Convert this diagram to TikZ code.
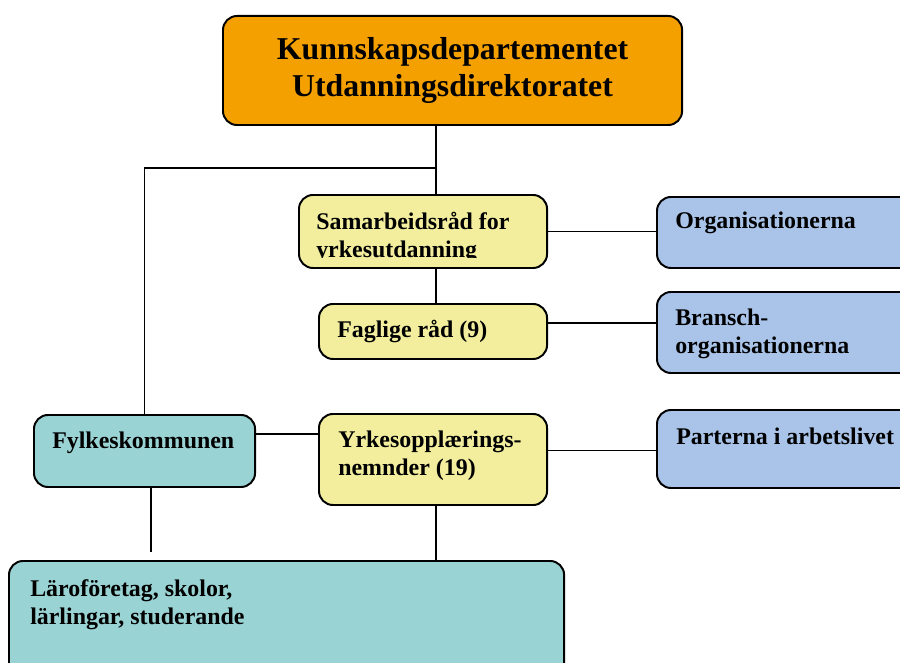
\documentclass[tikz,border=0pt]{standalone}
\usepackage{fontspec}
\setmainfont{Liberation Serif}

\definecolor{deptorange}{HTML}{F4A000}
\definecolor{raadyellow}{HTML}{F2EE9E}
\definecolor{orgblue}{HTML}{A9C4E8}
\definecolor{fylketeal}{HTML}{9AD3D4}

\tikzset{
  box/.style={draw, line width=1.4pt, rounded corners=0.35cm, anchor=north west, inner sep=0pt},
  lbl/.style={anchor=north west, align=left, inner sep=0pt, font=\fontsize{17}{20}\selectfont\bfseries},
  link/.style={line width=1.4pt}
}

\begin{document}
\begin{tikzpicture}[x=0.025cm, y=-0.025cm]
    \useasboundingbox (0,0) rectangle (900,663);
    \clip (0,0) rectangle (900,663);

    % boxes
    \node[box, fill=deptorange, minimum width=11.475cm, minimum height=2.725cm, align=center,
          font=\fontsize{22.6}{26.5}\selectfont\bfseries] (dept) at (222,15) {Kunnskapsdepartementet\\Utdanningsdirektoratet};
    \node[box, fill=raadyellow, minimum width=6.2cm, minimum height=1.825cm] (samraad) at (298,194) {};
    \node[box, fill=raadyellow, minimum width=5.7cm, minimum height=1.375cm] (faglig) at (318,303) {};
    \node[box, fill=raadyellow, minimum width=5.7cm, minimum height=2.275cm] (yrkes) at (318,413) {};
    \node[box, fill=orgblue, minimum width=6.85cm, minimum height=1.775cm] (org) at (656,196) {};
    \node[box, fill=orgblue, minimum width=6.85cm, minimum height=2.025cm] (bransch) at (656,291) {};
    \node[box, fill=orgblue, minimum width=6.85cm, minimum height=1.95cm] (parter) at (656,409) {};
    \node[box, fill=fylketeal, minimum width=5.525cm, minimum height=1.8cm] (fylke) at (33,414) {};
    \node[box, fill=fylketeal, minimum width=13.875cm, minimum height=3.5cm] (laro) at (8,560) {};

    % texts
    \begin{scope}
      \clip (298,194) rectangle (546,257);
      \node[lbl] (samraad-t) at (316,212) {Samarbeidsråd for\\yrkesutdanning};
    \end{scope}
    \node[lbl] (faglig-t) at (337,320) {Faglige råd (9)};
    \node[lbl] (yrkes-t) at (338,431) {Yrkesopplærings-\\nemnder (19)};
    \node[lbl] (org-t) at (675,212) {Organisationerna};
    \node[lbl] (bransch-t) at (675,309) {Bransch-\\organisationerna};
    \node[lbl] (parter-t) at (676,428) {Parterna i arbetslivet};
    \node[lbl] (fylke-t) at (52,432) {Fylkeskommunen};
    \node[lbl] (laro-t) at (30,579) {Läroföretag, skolor,\\lärlingar, studerande};

    % connectors
    \coordinate (spine) at (436,0);
    \coordinate (fork) at (436,168);
    \coordinate (fylkeend) at (151,552);

    \draw[link] (dept.south -| spine) -- (samraad.north -| spine);
    \draw[link] (fork) -| (fylke.north);
    \draw[link] (samraad.south -| spine) -- (faglig.north -| spine);
    \draw[link] (samraad.east) -- (samraad.east -| org.west);
    \draw[link] ([yshift=0.21cm]faglig.east) -- ([yshift=0.21cm]faglig.east -| bransch.west);
    \draw[link] ([yshift=0.225cm]yrkes.east) -- ([yshift=0.225cm]yrkes.east -| parter.west);
    \draw[link] ([yshift=0.425cm]fylke.east) -- ([yshift=0.425cm]fylke.east -| yrkes.west);
    \draw[link] (fylke.south -| fylkeend) -- (fylkeend);
    \draw[link] (yrkes.south -| spine) -- (laro.north -| spine);
  \end{tikzpicture}
\end{document}
